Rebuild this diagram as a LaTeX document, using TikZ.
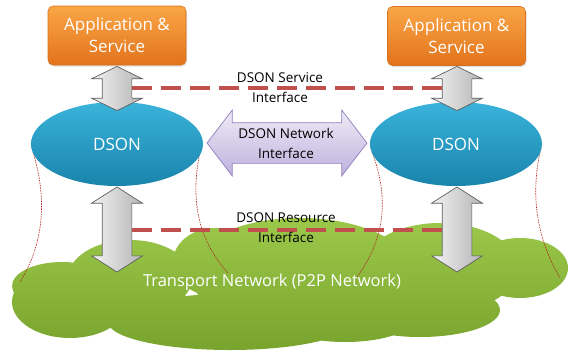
\documentclass[tikz,border=0pt]{standalone}
\usepackage{fontspec}
\setmainfont{Open Sans}
\usetikzlibrary{shapes.arrows,shapes.geometric,shadows}

\definecolor{apptop}{HTML}{FAA646}
\definecolor{appbot}{HTML}{E2731C}
\definecolor{appedge}{HTML}{D9731E}
\definecolor{dsontop}{HTML}{3AB3DA}
\definecolor{dsonbot}{HTML}{1984AC}
\definecolor{cloudtop}{HTML}{9CC84A}
\definecolor{cloudbot}{HTML}{78A42E}
\definecolor{ifred}{HTML}{C0504D}
\definecolor{thinred}{HTML}{B0281E}
\definecolor{lavtop}{HTML}{EFEBF7}
\definecolor{lavbot}{HTML}{BDB0DC}
\definecolor{lavedge}{HTML}{8E80BE}
\definecolor{graylight}{HTML}{F2F2F2}
\definecolor{graydark}{HTML}{B5B5B5}
\definecolor{grayedge}{HTML}{5E5E5E}

\tikzset{
  appbox/.style={rectangle, rounded corners=5pt, minimum width=138pt,
    minimum height=59pt, top color=apptop, bottom color=appbot,
    draw=appedge, line width=0.6pt, text=white, align=center,
    font=\fontsize{17}{22}\selectfont,
    drop shadow={opacity=0.25, shadow xshift=1pt, shadow yshift=-1.5pt}},
  dsonell/.style={ellipse, minimum width=172pt, minimum height=84pt,
    inner sep=0pt, top color=dsontop, bottom color=dsonbot,
    text=white, font=\fontsize{17}{20}\selectfont},
  vlink/.style={double arrow, shape border rotate=90, inner sep=14.5pt,
    minimum width=50pt, double arrow head extend=10.5pt,
    left color=graylight, right color=graydark, draw=grayedge,
    line width=0.7pt},
  netlink/.style={double arrow, inner sep=20pt, minimum height=160pt,
    minimum width=65pt, double arrow head extend=12.5pt,
    double arrow tip angle=105, top color=lavtop, bottom color=lavbot,
    draw=lavedge, line width=0.7pt},
  iface/.style={ifred, line width=3.5pt, dash pattern=on 20pt off 9pt},
  guide/.style={thinred, line width=0.6pt, dash pattern=on 1.6pt off 1pt},
  iflabel/.style={align=center, text=black, inner sep=0pt,
    font=\fontsize{13.5}{20}\selectfont},
  cloudlabel/.style={text=white, inner sep=0pt,
    font=\fontsize{16.5}{20}\selectfont}
}

\begin{document}
\begin{tikzpicture}[x=1pt,y=-1pt]
\useasboundingbox (0,0) rectangle (571,354);

% transport network cloud, built from overlapping lobes
\shade[top color=cloudtop, bottom color=cloudbot]
  (70,302) ellipse [x radius=58pt, y radius=36pt]
  (62,286) ellipse [x radius=50pt, y radius=24pt]
  (130,278) ellipse [x radius=62pt, y radius=38pt]
  (215,262) ellipse [x radius=42pt, y radius=34pt]
  (300,272) ellipse [x radius=112pt, y radius=54pt]
  (440,268) ellipse [x radius=78pt, y radius=45pt]
  (520,268) ellipse [x radius=48pt, y radius=30pt]
  (230,322) ellipse [x radius=122pt, y radius=28pt]
  (345,318) ellipse [x radius=70pt, y radius=24pt]
  (420,310) ellipse [x radius=80pt, y radius=27pt];

% guide curves from the DSON layers down to the network
\coordinate (g1a) at (33,152);  \coordinate (g1b) at (20,282);
\coordinate (g2a) at (200,152); \coordinate (g2b) at (228,273);
\coordinate (g3a) at (372,152); \coordinate (g3b) at (357,277);
\coordinate (g4a) at (540,152); \coordinate (g4b) at (560,278);
\draw[guide] (g1a) .. controls (46,195) and (46,240) .. (g1b);
\draw[guide] (g2a) .. controls (190,200) and (198,240) .. (g2b);
\draw[guide] (g3a) .. controls (390,200) and (384,240) .. (g3b);
\draw[guide] (g4a) .. controls (530,200) and (538,240) .. (g4b);

% layers
\node[appbox] (appL) at (117,35.5) {Application \&\\Service};
\node[appbox] (appR) at (456.5,36) {Application \&\\Service};
\node[dsonell] (dsonL) at (117,144) {DSON};
\node[dsonell] (dsonR) at (456,144) {DSON};

% block arrows between the layers
\node[vlink, minimum height=41pt, double arrow tip angle=128] (upL) at (117,88.5) {};
\node[vlink, minimum height=41pt, double arrow tip angle=128] (upR) at (457,88.5) {};
\node[vlink, minimum height=85pt, double arrow tip angle=115] (dnL) at (117,229.5) {};
\node[vlink, minimum height=85pt, double arrow tip angle=115] (dnR) at (457,229.5) {};
\node[netlink] (net) at (287,143) {};

% interface lines
\coordinate (svcL) at (131.5,88);  \coordinate (svcR) at (442.5,88);
\coordinate (resL) at (131.5,230); \coordinate (resR) at (442.5,230);
\draw[iface] (svcL) -- (svcR);
\draw[iface] (resL) -- (resR);

% labels
\node[iflabel] (lblSvc) at (280,87.5) {DSON Service\\Interface};
\node[iflabel] (lblNet) at (286,143) {DSON Network\\Interface};
\node[iflabel] (lblRes) at (286,228) {DSON Resource\\Interface};
\node[cloudlabel] (lblTN) at (272,282) {Transport Network (P2P Network)};
\end{tikzpicture}
\end{document}
